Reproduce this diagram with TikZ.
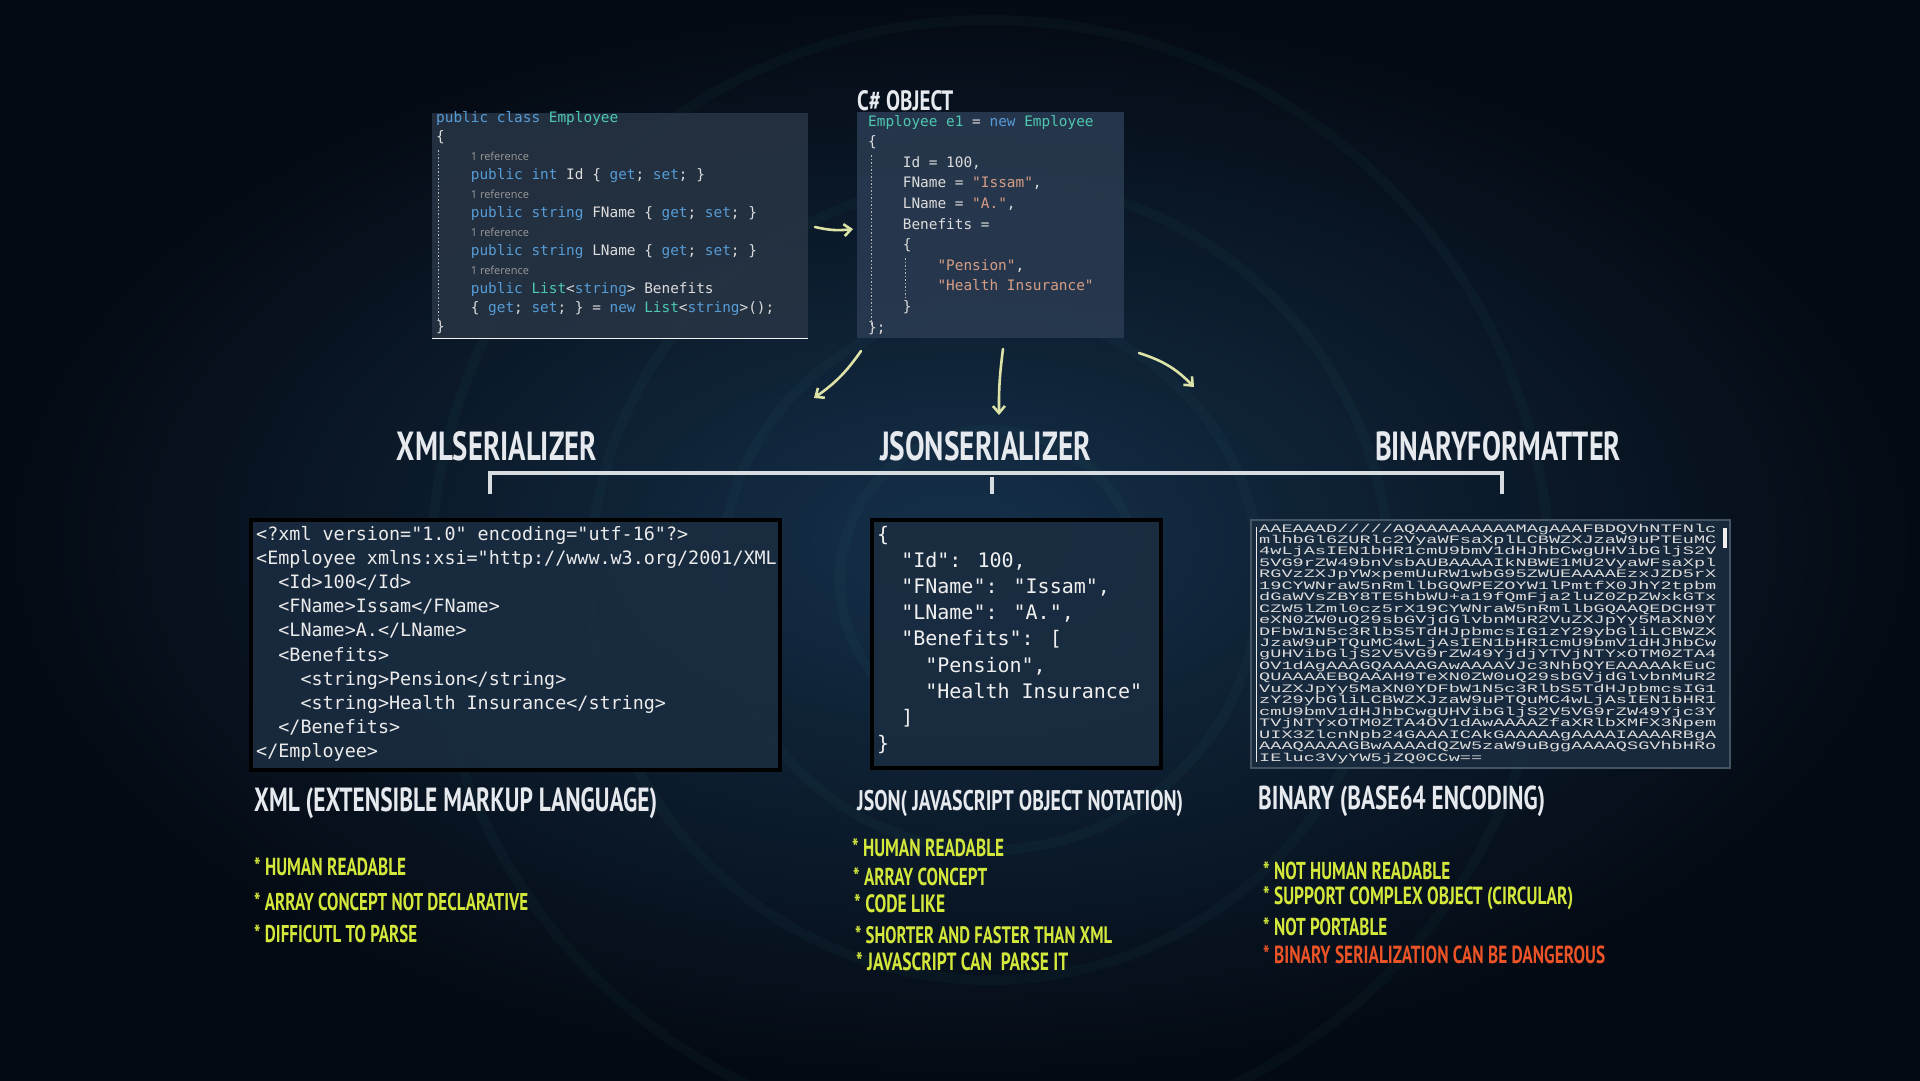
\documentclass[tikz,border=0pt]{standalone}
\usepackage{fontspec}
\usepackage{graphicx}
\usetikzlibrary{positioning,arrows.meta}
\setmainfont{DejaVu Sans}
\newfontfamily\codefont{DejaVu Sans Mono}
\newfontfamily\widemono[FakeStretch=1.63]{Liberation Mono}
\newfontfamily\condfont[FakeStretch=0.7]{PT Sans}
\newfontfamily\reffont{Open Sans}

\definecolor{bgMid}{HTML}{15304A}
\definecolor{bgEdge}{HTML}{040A13}
\definecolor{panelBg}{HTML}{283545}
\definecolor{objBg}{HTML}{2B3C53}
\definecolor{outBg}{HTML}{1A2C40}
\definecolor{kwBlue}{HTML}{569CD6}
\definecolor{tyTeal}{HTML}{4EC9B0}
\definecolor{strSal}{HTML}{D69D85}
\definecolor{codeFg}{HTML}{DCDCDC}
\definecolor{refGray}{HTML}{9A9A9A}
\definecolor{headFg}{HTML}{E6E9EE}
\definecolor{noteGreen}{HTML}{D4E83C}
\definecolor{noteRed}{HTML}{EC5327}
\definecolor{arrowFg}{HTML}{DDE2A6}
\definecolor{bracketFg}{HTML}{D7DCE0}

\newcommand\kw[1]{\textcolor{kwBlue}{#1}}
\newcommand\ty[1]{\textcolor{tyTeal}{#1}}
\newcommand\strc[1]{\textcolor{strSal}{#1}}
\newcommand\pad[1]{\hphantom{#1}}
\newcommand\refnote{{\reffont\fontsize{11}{12}\selectfont\textcolor{refGray}{1 reference}}}

\begin{document}
\begin{tikzpicture}[x=1pt,y=-1pt,
  panel/.style={inner sep=0pt,outer sep=0pt,anchor=north west},
  codeline/.style={anchor=base west,inner sep=0pt,text=codeFg},
  guide/.style={draw=refGray!70,line width=0.8pt,dash pattern=on 1.5pt off 2pt},
  headtxt/.style={inner sep=0pt,text=headFg,font=\condfont\bfseries},
  note/.style={anchor=west,inner sep=0pt,text=noteGreen,font=\condfont\bfseries},
  flow/.style={draw=arrowFg,line width=2.6pt,line cap=round,-{Straight Barb[length=7pt,width=12pt]}},
  bracket/.style={draw=bracketFg,line width=4pt}]

% background
\shade[inner color=bgMid,outer color=bgEdge] (0,0) rectangle (1920,1080);
\useasboundingbox (0,0) rectangle (1920,1080);
\foreach \r in {150,270,400,560}
  \draw[tyTeal,opacity=0.035,line width=10pt] (990,580) circle[radius=\r];

% class definition
\node[panel,fill=panelBg,fill opacity=0.85,minimum width=376pt,minimum height=225pt] (clsbox) at (432,113) {};
\draw[codeFg!35,line width=1pt] (clsbox.south west) -- (clsbox.south east);
\draw[guide] (438,150) -- (438,320);
\foreach \ln [count=\i from 0] in {
  {\kw{public} \kw{class} \ty{Employee}},
  {\{},
  {\pad{xxxx}\refnote},
  {\pad{xxxx}\kw{public} \kw{int} Id \{ \kw{get}; \kw{set}; \}},
  {\pad{xxxx}\refnote},
  {\pad{xxxx}\kw{public} \kw{string} FName \{ \kw{get}; \kw{set}; \}},
  {\pad{xxxx}\refnote},
  {\pad{xxxx}\kw{public} \kw{string} LName \{ \kw{get}; \kw{set}; \}},
  {\pad{xxxx}\refnote},
  {\pad{xxxx}\kw{public} \ty{List}<\kw{string}> Benefits},
  {\pad{xxxx}\{ \kw{get}; \kw{set}; \} = \kw{new} \ty{List}<\kw{string}>();},
  {\}}}
  \node[codeline,font=\codefont\fontsize{14.4}{17}\selectfont] (cls\i) at (436,{122+19*\i}) {\ln};

% object instance
\node[panel,fill=objBg,fill opacity=0.85,minimum width=267pt,minimum height=226pt] (objbox) at (857,112) {};
\node[headtxt,anchor=south west] (objlbl) at (857,111) {\resizebox{96pt}{20pt}{C\# OBJECT}};
\draw[guide] (871,155) -- (871,325);
\draw[guide] (905,258) -- (905,300);
\foreach \ln [count=\i from 0] in {
  {\ty{Employee e1} = \kw{new} \ty{Employee}},
  {\{},
  {\pad{xxxx}Id = 100,},
  {\pad{xxxx}FName = \strc{"Issam"},},
  {\pad{xxxx}LName = \strc{"A."},},
  {\pad{xxxx}Benefits =},
  {\pad{xxxx}\{},
  {\pad{xxxxxxxx}\strc{"Pension"},},
  {\pad{xxxxxxxx}\strc{"Health Insurance"}},
  {\pad{xxxx}\}},
  {\};}}
  \node[codeline,font=\codefont\fontsize{14.4}{17}\selectfont] (obj\i) at (868,{126+20.6*\i}) {\ln};

% arrows
\coordinate (a0s) at (815,227);
\coordinate (a0e) at (853,229);
\coordinate (a1s) at (861,351);
\coordinate (a1e) at (814,398);
\coordinate (a2s) at (1003,349);
\coordinate (a2e) at (999,415);
\coordinate (a3s) at (1139,353);
\coordinate (a3e) at (1194,387);
\draw[flow] (a0s) to[bend right=10] (a0e);
\draw[flow] (a1s) to[bend left=10] (a1e);
\draw[flow] (a2s) to[bend right=4] (a2e);
\draw[flow] (a3s) to[bend left=14] (a3e);

% serializers
\node[headtxt] (xmlser) at (497,446.5) {\resizebox{200pt}{29pt}{XMLSERIALIZER}};
\node[headtxt] (jsonser) at (985.5,446.5) {\resizebox{211pt}{29pt}{JSONSERIALIZER}};
\node[headtxt] (binfmt) at (1498,446.5) {\resizebox{246pt}{29pt}{BINARYFORMATTER}};

\coordinate (brl) at (490,494);
\coordinate (brr) at (1502,494);
\coordinate (brm) at (992,494);
\draw[bracket] (brl) -- (490,473) -- (1502,473) -- (brr);
\draw[bracket] (992,477) -- (brm);

% XML output
\node[panel,fill=outBg,fill opacity=0.9,draw=black,line width=4pt,minimum width=529pt,minimum height=250pt] (xmlbox) at (251,520) {};
\begin{scope}
\clip (253,522) rectangle (777,768);
\foreach \ln [count=\i from 0] in {
  {<?xml version="1.0" encoding="utf-16"?>},
  {<Employee xmlns:xsi="http://www.w3.org/2001/XML},
  {\pad{xx}<Id>100</Id>},
  {\pad{xx}<FName>Issam</FName>},
  {\pad{xx}<LName>A.</LName>},
  {\pad{xx}<Benefits>},
  {\pad{xxxx}<string>Pension</string>},
  {\pad{xxxx}<string>Health Insurance</string>},
  {\pad{xx}</Benefits>},
  {</Employee>}}
  \node[codeline,text=white!92!black,font=\codefont\fontsize{18.4}{21}\selectfont] (xml\i) at (256,{540+24.2*\i}) {\ln};
\end{scope}

% JSON output
\node[panel,fill=outBg,fill opacity=0.9,draw=black,line width=4pt,minimum width=289pt,minimum height=248pt] (jsonbox) at (872,520) {};
\foreach \ln [count=\i from 0] in {
  {\{},
  {\pad{xx}"Id": 100,},
  {\pad{xx}"FName": "Issam",},
  {\pad{xx}"LName": "A.",},
  {\pad{xx}"Benefits": [},
  {\pad{xxxx}"Pension",},
  {\pad{xxxx}"Health Insurance"},
  {\pad{xx}]},
  {\}}}
  \node[codeline,text=white!94!black,font=\codefont\fontsize{20}{23}\selectfont] (json\i) at (877,{541+26.2*\i}) {\ln};

% binary output
\node[panel,fill=outBg,fill opacity=0.9,draw=gray!45!bgMid,line width=1.5pt,minimum width=479pt,minimum height=248pt] (binbox) at (1251,520) {};
\draw[codeFg!60,line width=1pt] (1256,527) -- (1256,762);
\fill[codeFg!45] (1723,528) rectangle (1727,548);
\foreach \ln [count=\i from 0] in {
  AAEAAAD/////AQAAAAAAAAAMAgAAAFBDQVhNTFNlc,
  mlhbGl6ZURlc2VyaWFsaXplLCBWZXJzaW9uPTEuMC,
  4wLjAsIEN1bHR1cmU9bmV1dHJhbCwgUHVibGljS2V,
  5VG9rZW49bnVsbAUBAAAAIkNBWE1MU2VyaWFsaXpl,
  RGVzZXJpYWxpemUuRW1wbG95ZWUEAAAAEzxJZD5rX,
  19CYWNraW5nRmllbGQWPEZOYW1lPmtfX0JhY2tpbm,
  dGaWVsZBY8TE5hbWU+a19fQmFja2luZ0ZpZWxkGTx,
  CZW5lZml0cz5rX19CYWNraW5nRmllbGQAAQEDCH9T,
  eXN0ZW0uQ29sbGVjdGlvbnMuR2VuZXJpYy5MaXN0Y,
  DFbW1N5c3RlbS5TdHJpbmcsIG1zY29ybGliLCBWZX,
  JzaW9uPTQuMC4wLjAsIEN1bHR1cmU9bmV1dHJhbCw,
  gUHVibGljS2V5VG9rZW49YjdjYTVjNTYxOTM0ZTA4,
  OV1dAgAAAGQAAAAGAwAAAAVJc3NhbQYEAAAAAkEuC,
  QUAAAAEBQAAAH9TeXN0ZW0uQ29sbGVjdGlvbnMuR2,
  VuZXJpYy5MaXN0YDFbW1N5c3RlbS5TdHJpbmcsIG1,
  zY29ybGliLCBWZXJzaW9uPTQuMC4wLjAsIEN1bHR1,
  cmU9bmV1dHJhbCwgUHVibGljS2V5VG9rZW49Yjc3Y,
  TVjNTYxOTM0ZTA4OV1dAwAAAAZfaXRlbXMFX3Npem,
  UIX3ZlcnNpb24GAAAICAkGAAAAAgAAAAIAAAARBgA,
  AAAQAAAAGBwAAAAdQZW5zaW9uBggAAAAQSGVhbHRo,
  IEluc3VyYW5jZQ0CCw==}
  \node[codeline,text=codeFg,font=\widemono\fontsize{11.4}{12}\selectfont] (bin\i) at (1259,{532+11.45*\i}) {\ln};

% format captions
\node[headtxt,anchor=west] (xmllbl) at (254,803) {\resizebox{403pt}{!}{XML (EXTENSIBLE MARKUP LANGUAGE)}};
\node[headtxt,anchor=west] (jsonlbl) at (857,803) {\resizebox{326pt}{!}{JSON( JAVASCRIPT OBJECT NOTATION)}};
\node[headtxt,anchor=west] (binlbl) at (1258,801) {\resizebox{287pt}{!}{BINARY (BASE64 ENCODING)}};

% pros and cons
\node[note] (xmln1) at (254,867) {\resizebox{152pt}{!}{* HUMAN READABLE}};
\node[note] (xmln2) at (254,902) {\resizebox{274pt}{!}{* ARRAY CONCEPT NOT DECLARATIVE}};
\node[note] (xmln3) at (254,934) {\resizebox{163pt}{!}{* DIFFICUTL TO PARSE}};

\node[note] (jsonn1) at (852,848) {\resizebox{152pt}{!}{* HUMAN READABLE}};
\node[note] (jsonn2) at (853,877) {\resizebox{134pt}{!}{* ARRAY CONCEPT}};
\node[note] (jsonn3) at (854,904) {\resizebox{91pt}{!}{* CODE LIKE}};
\node[note] (jsonn4) at (855,935) {\resizebox{257pt}{!}{* SHORTER AND FASTER THAN XML}};
\node[note] (jsonn5) at (856,962) {\resizebox{212pt}{!}{* JAVASCRIPT CAN\ \ PARSE IT}};

\node[note] (binn1) at (1263,871) {\resizebox{187pt}{!}{* NOT HUMAN READABLE}};
\node[note] (binn2) at (1263,898) {\resizebox{310pt}{!}{* SUPPORT COMPLEX OBJECT (CIRCULAR)}};
\node[note] (binn3) at (1263,927) {\resizebox{124pt}{!}{* NOT PORTABLE}};
\node[note,text=noteRed] (binn4) at (1263,955) {\resizebox{342pt}{!}{* BINARY SERIALIZATION CAN BE DANGEROUS}};
\end{tikzpicture}
\end{document}
